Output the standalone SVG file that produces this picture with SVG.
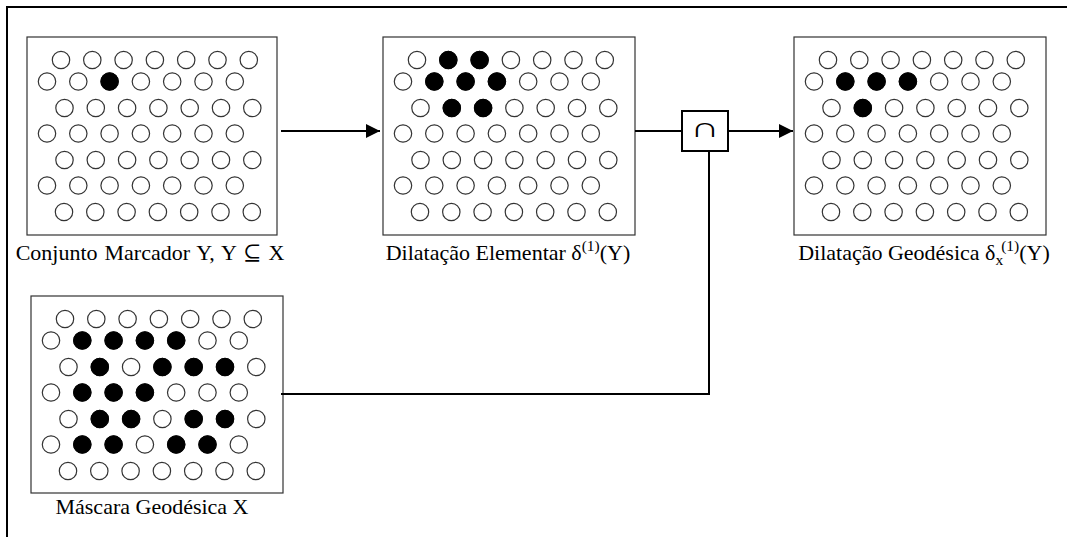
<svg xmlns="http://www.w3.org/2000/svg" xmlns:xlink="http://www.w3.org/1999/xlink" width="1067" height="537" viewBox="0 0 1067 537">
<style>
.frame{fill:none;stroke:#000;stroke-width:2}
.panel{fill:#fff;stroke:#333;stroke-width:1.2}
.c{fill:#fff;stroke:#333;stroke-width:1.2}
.on{fill:#000;stroke:#000;stroke-width:1}
.lbl{font-family:"Liberation Serif","Times New Roman","DejaVu Serif",serif;font-size:22px;fill:#000;text-anchor:middle}
.sm{font-size:15.5px}
.conn{fill:none;stroke:#000;stroke-width:2}
.op{fill:#fff;stroke:#000;stroke-width:2}
.sym{font-family:"Liberation Serif","DejaVu Serif",serif;font-size:28px;fill:#000;text-anchor:middle}
</style>
<defs>
<g id="row">
<circle class="c" cx="0" cy="0" r="8.7"/>
<circle class="c" cx="31.3" cy="0" r="8.7"/>
<circle class="c" cx="62.6" cy="0" r="8.7"/>
<circle class="c" cx="93.9" cy="0" r="8.7"/>
<circle class="c" cx="125.2" cy="0" r="8.7"/>
<circle class="c" cx="156.5" cy="0" r="8.7"/>
<circle class="c" cx="187.8" cy="0" r="8.7"/>
</g>
<g id="grid">
<use xlink:href="#row" x="34" y="23"/>
<use xlink:href="#row" x="20" y="44.5"/>
<use xlink:href="#row" x="37.5" y="71"/>
<use xlink:href="#row" x="20" y="96.5"/>
<use xlink:href="#row" x="37.5" y="123"/>
<use xlink:href="#row" x="20" y="148.5"/>
<use xlink:href="#row" x="37" y="175"/>
</g>
<marker id="ah" markerWidth="14" markerHeight="14" refX="14" refY="7" orient="auto" markerUnits="userSpaceOnUse">
<path d="M0,0 L14,7 L0,14 z" fill="#000"/>
</marker>
</defs>

<path class="frame" d="M7,537 V7 H1067"/>

<g id="panel-marcador" transform="translate(27,37)">
<rect class="panel" x="0" y="0" width="250" height="198"/>
<use xlink:href="#grid"/>
<circle class="on" cx="82.6" cy="44.5" r="8.7"/>
<text class="lbl" x="123" y="223" word-spacing="1.5">Conjunto Marcador Y, Y ⊆ X</text>
</g>

<g id="panel-dilatacao-elementar" transform="translate(383,37)">
<rect class="panel" x="0" y="0" width="252" height="198"/>
<use xlink:href="#grid"/>
<circle class="on" cx="65.3" cy="23" r="8.7"/>
<circle class="on" cx="96.6" cy="23" r="8.7"/>
<circle class="on" cx="51.3" cy="44.5" r="8.7"/>
<circle class="on" cx="82.6" cy="44.5" r="8.7"/>
<circle class="on" cx="113.9" cy="44.5" r="8.7"/>
<circle class="on" cx="68.8" cy="71" r="8.7"/>
<circle class="on" cx="100.1" cy="71" r="8.7"/>
<text class="lbl" x="125" y="223">Dilatação Elementar δ<tspan class="sm" dy="-9">(1)</tspan><tspan dy="9">(Y)</tspan></text>
</g>

<g id="panel-dilatacao-geodesica" transform="translate(794,37)">
<rect class="panel" x="0" y="0" width="252" height="198"/>
<use xlink:href="#grid"/>
<circle class="on" cx="51.3" cy="44.5" r="8.7"/>
<circle class="on" cx="82.6" cy="44.5" r="8.7"/>
<circle class="on" cx="113.9" cy="44.5" r="8.7"/>
<circle class="on" cx="68.8" cy="71" r="8.7"/>
<text class="lbl" x="130" y="223">Dilatação Geodésica δ<tspan class="sm" dy="5">x</tspan><tspan class="sm" dx="-2" dy="-14">(1)</tspan><tspan dy="9">(Y)</tspan></text>
</g>

<g id="panel-mascara" transform="translate(31,296)">
<rect class="panel" x="0" y="0" width="252" height="197"/>
<use xlink:href="#grid"/>
<circle class="on" cx="51.3" cy="44.5" r="8.7"/>
<circle class="on" cx="82.6" cy="44.5" r="8.7"/>
<circle class="on" cx="113.9" cy="44.5" r="8.7"/>
<circle class="on" cx="145.2" cy="44.5" r="8.7"/>
<circle class="on" cx="68.8" cy="71" r="8.7"/>
<circle class="on" cx="131.4" cy="71" r="8.7"/>
<circle class="on" cx="162.7" cy="71" r="8.7"/>
<circle class="on" cx="194" cy="71" r="8.7"/>
<circle class="on" cx="51.3" cy="96.5" r="8.7"/>
<circle class="on" cx="82.6" cy="96.5" r="8.7"/>
<circle class="on" cx="113.9" cy="96.5" r="8.7"/>
<circle class="on" cx="68.8" cy="123" r="8.7"/>
<circle class="on" cx="100.1" cy="123" r="8.7"/>
<circle class="on" cx="162.7" cy="123" r="8.7"/>
<circle class="on" cx="194" cy="123" r="8.7"/>
<circle class="on" cx="51.3" cy="148.5" r="8.7"/>
<circle class="on" cx="82.6" cy="148.5" r="8.7"/>
<circle class="on" cx="145.2" cy="148.5" r="8.7"/>
<circle class="on" cx="176.5" cy="148.5" r="8.7"/>
<text class="lbl" x="121" y="218">Máscara Geodésica X</text>
</g>

<g id="connectors">
<line class="conn" x1="281" y1="131" x2="380" y2="131" marker-end="url(#ah)"/>
<line class="conn" x1="635" y1="131" x2="682" y2="131"/>
<line class="conn" x1="728" y1="131" x2="793" y2="131" marker-end="url(#ah)"/>
<polyline class="conn" points="709,151 709,394 281,394"/>
</g>

<g id="op-intersecao">
<rect class="op" x="682" y="111" width="46" height="40"/>
<text class="sym" transform="translate(705,137) scale(1.45,1)" x="0" y="0">∩</text>
</g>
</svg>
